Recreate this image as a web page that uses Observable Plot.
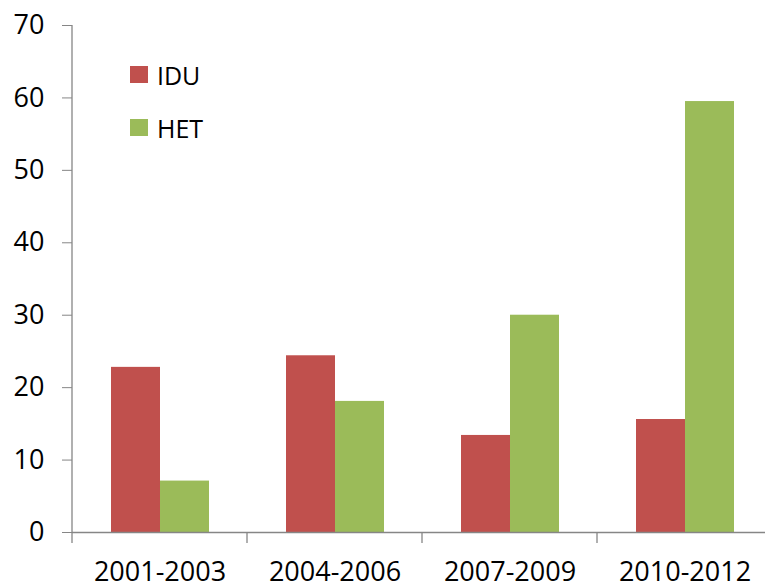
<!DOCTYPE html>
<html>
<head>
<meta charset="utf-8">
<script src="https://cdn.jsdelivr.net/npm/d3@7"></script>
<script src="https://cdn.jsdelivr.net/npm/@observablehq/plot@0.6"></script>
<style>
  html, body { margin: 0; padding: 0; background: #fff; overflow: hidden; }
  #wrap { position: relative; width: 765px; height: 587px; font-family: "Open Sans", sans-serif; }
  #legend { position: absolute; left: 130px; top: 48px; }
  .item { display: flex; align-items: center; height: 53px; font-size: 25px; color: #000; }
  .sw { width: 18px; height: 17px; margin-right: 9px; }
</style>
</head>
<body>
<div id="wrap"></div>
<script>
const periods = ["2001-2003", "2004-2006", "2007-2009", "2010-2012"];
const series = ["IDU", "HET"];
const iduValues = [22.8, 24.4, 13.4, 15.6];
const hetValues = [7.1, 18.1, 30.0, 59.5];
const seriesColors = ["#C0504D", "#9BBB59"];
const yTicks = [0, 10, 20, 30, 40, 50, 60, 70];

const data = [];
periods.forEach((p, i) => {
  data.push({period: p, series: "IDU", value: iduValues[i]});
  data.push({period: p, series: "HET", value: hetValues[i]});
});

const axisColor = "#868686";

const plot = Plot.plot({
  width: 765,
  height: 587,
  marginLeft: 72,
  marginRight: -7,
  marginTop: 25,
  marginBottom: 55,
  style: {fontFamily: "Open Sans, sans-serif", background: "#fff", color: "#000", overflow: "visible"},
  fx: {domain: periods, padding: 0, label: null},
  x: {domain: series, paddingInner: 0, paddingOuter: 0.76, axis: null},
  y: {domain: [0, 70], label: null},
  color: {domain: series, range: seriesColors},
  marks: [
    Plot.barY(data, {fx: "period", x: "series", y: "value", fill: "series"}),
    Plot.ruleY([0], {stroke: axisColor, strokeWidth: 1.3}),
    Plot.axisY({ticks: yTicks, tickSize: 10, tickPadding: 18, fontSize: 27, stroke: axisColor, label: null, fill: "#000"}),
    Plot.axisFx({anchor: "bottom", tickSize: 0, tickPadding: 29, fontSize: 27, label: null, fill: "#000"})
  ]
});

// axis line and category boundary ticks, from the plot's scales
const fx = plot.scale("fx");
const y = plot.scale("y");
const svg = d3.select(plot);
const y0 = y.apply(0), yTop = y.apply(70);
const x0 = fx.apply(periods[0]);
svg.append("line")
  .attr("x1", x0).attr("x2", x0).attr("y1", yTop).attr("y2", y0)
  .attr("stroke", axisColor).attr("stroke-width", 1.3);
const bounds = periods.map(p => fx.apply(p));
bounds.push(fx.apply(periods[periods.length - 1]) + fx.bandwidth);
svg.append("g").selectAll("line").data(bounds).join("line")
  .attr("x1", d => d).attr("x2", d => d).attr("y1", y0).attr("y2", y0 + 11)
  .attr("stroke", axisColor).attr("stroke-width", 1.3);

const wrap = document.getElementById("wrap");
wrap.appendChild(plot);

const legend = document.createElement("div");
legend.id = "legend";
series.forEach((s, i) => {
  const item = document.createElement("div");
  item.className = "item";
  const sw = document.createElement("span");
  sw.className = "sw";
  sw.style.background = seriesColors[i];
  const t = document.createElement("span");
  t.textContent = s;
  item.appendChild(sw);
  item.appendChild(t);
  legend.appendChild(item);
});
wrap.appendChild(legend);
</script>
</body>
</html>
